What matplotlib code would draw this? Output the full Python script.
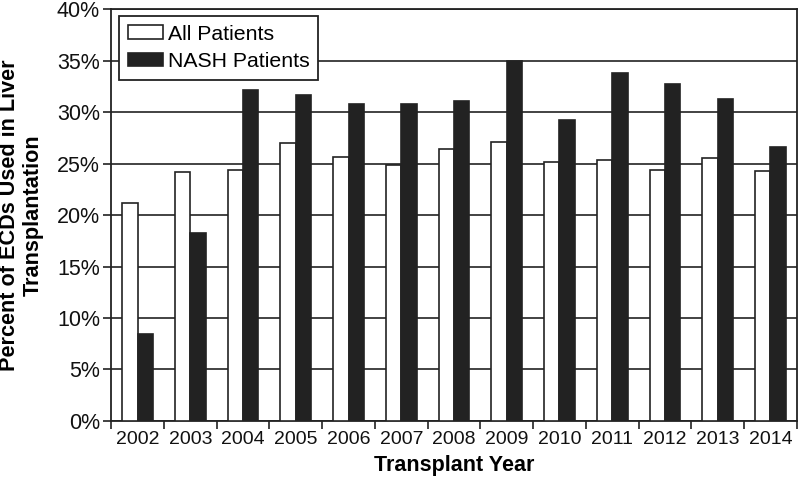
import numpy as np
import matplotlib
matplotlib.use('Agg')
import matplotlib.pyplot as plt
from matplotlib.ticker import FuncFormatter

plt.rcParams['font.family'] = ['Liberation Sans', 'DejaVu Sans']

years = ['2002', '2003', '2004', '2005', '2006', '2007', '2008',
         '2009', '2010', '2011', '2012', '2013', '2014']
all_patients = [21.2, 24.2, 24.4, 27.0, 25.6, 24.9, 26.4,
                27.1, 25.2, 25.3, 24.4, 25.5, 24.3]
nash_patients = [8.4, 18.3, 32.1, 31.7, 30.8, 30.8, 31.1,
                 35.0, 29.2, 33.8, 32.7, 31.3, 26.6]

fig = plt.figure(figsize=(8, 4.8), dpi=100)
ax = fig.add_axes([0.139, 0.123, 0.857, 0.858])

x = np.arange(len(years))
w = 0.29
ax.bar(x - w / 2, all_patients, w, color='white', edgecolor='#222222',
       linewidth=1.2, label='All Patients', zorder=3)
ax.bar(x + w / 2, nash_patients, w, color='#222222', edgecolor='#222222',
       linewidth=1.2, label='NASH Patients', zorder=3)

ax.set_xlim(-0.5, len(years) - 0.5)
ax.set_ylim(0, 40)
ax.set_yticks(np.arange(0, 41, 5))
ax.yaxis.set_major_formatter(FuncFormatter(lambda v, p: f'{int(v)}%'))
ax.yaxis.grid(True, color='#222222', linewidth=1.2, zorder=0)
ax.set_axisbelow(True)

# ticks at group boundaries, labels centred
ax.set_xticks(np.arange(-0.5, len(years), 1.0))
ax.set_xticklabels([])
ax.set_xticks(x, minor=True)
ax.set_xticklabels(years, minor=True)
ax.tick_params(axis='x', which='major', direction='out', length=6, width=1.2, color='#222222')
ax.tick_params(axis='x', which='minor', length=0, labelsize=14, pad=7, labelcolor='#111111')
ax.tick_params(axis='y', direction='out', length=6, width=1.2, color='#222222',
               labelsize=15.5, pad=2, labelcolor='#111111')

for s in ax.spines.values():
    s.set_color('#222222')
    s.set_linewidth(1.3)

ax.set_xlabel('Transplant Year', fontsize=15.5, fontweight='bold', labelpad=5)
ax.set_ylabel('Percent of ECDs Used in Liver\nTransplantation', fontsize=15.6,
              fontweight='bold', linespacing=1.2)
ax.yaxis.set_label_coords(-0.098, 0.5)

leg = ax.legend(loc='upper left', bbox_to_anchor=(0.0117, 0.983), borderaxespad=0,
                fontsize=15.3, frameon=True, fancybox=False, edgecolor='#222222',
                framealpha=1, handlelength=1.65, handleheight=0.6,
                handletextpad=0.25, borderpad=0.4, labelspacing=0.4)
leg.get_frame().set_linewidth(1.3)

fig.savefig('out.png', dpi=100)
